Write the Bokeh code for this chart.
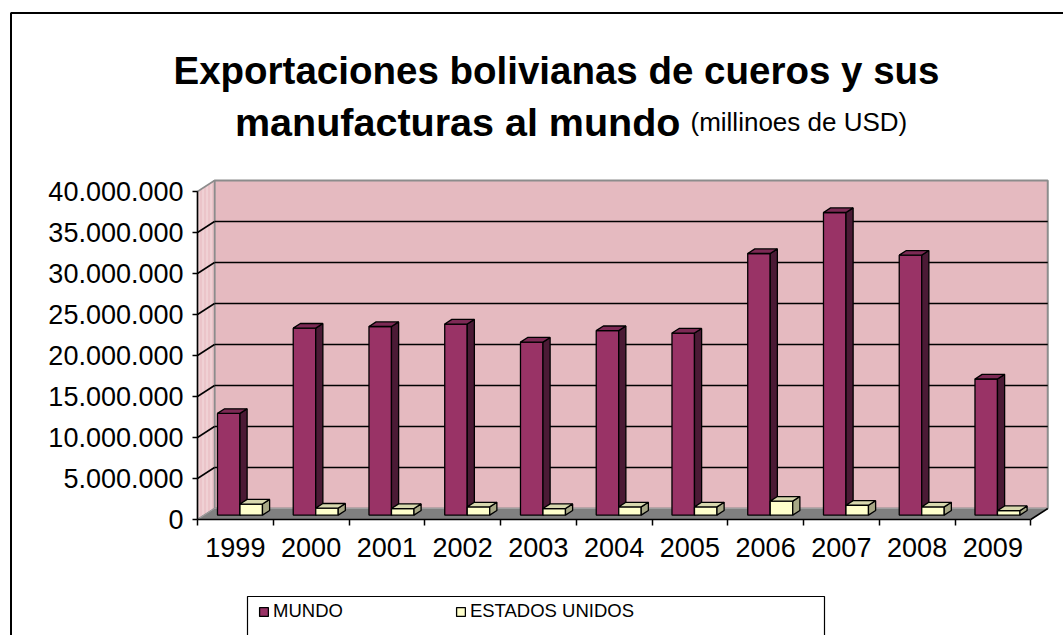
from bokeh.plotting import figure
from bokeh.models import (Range1d, FixedTicker, LinearAxis, Label, Legend,
                          LegendItem, BoxAnnotation)
from bokeh.embed import file_html
from bokeh.resources import INLINE

# ---------------- data ----------------
years = ["1999", "2000", "2001", "2002", "2003", "2004",
         "2005", "2006", "2007", "2008", "2009"]
mundo = [12400000, 22800000, 23000000, 23300000, 21100000, 22500000,
         22200000, 31900000, 36900000, 31700000, 16600000]
eeuu = [1350000, 850000, 800000, 1000000, 800000, 1000000,
        1000000, 1700000, 1200000, 1000000, 550000]
series_names = ["MUNDO", "ESTADOS UNIDOS"]
y_ticks = [0, 5000000, 10000000, 15000000, 20000000,
           25000000, 30000000, 35000000, 40000000]
y_tick_labels = ["0", "5.000.000", "10.000.000", "15.000.000", "20.000.000",
                 "25.000.000", "30.000.000", "35.000.000", "40.000.000"]
title_line1 = "Exportaciones bolivianas de cueros y sus"
title_line2_bold = "manufacturas al mundo"
title_line2_regular = "(millinoes de USD)"

# ---------------- geometry / style ----------------
W, H = 1063, 635
PX_X = 75.75          # px per category
PX_Y = 8.2e-6         # px per USD
ORIGIN_X, ORIGIN_Y = 197, 519   # canvas px of (x=-0.5, y=0)
DX = 17 / PX_X        # depth offset (x)
DY = 11 / PX_Y        # depth offset (y)
A0, A1 = 0.40, 0.82   # bar depth (fraction of floor depth)
BAR_OFF = 0.174
BAR_W = 0.297
FONT = "Liberation Sans"


def xd(px):
    return -0.5 + (px - ORIGIN_X) / PX_X


def yd(py):
    return (ORIGIN_Y - py) / PX_Y


n = len(years)
ymax = y_ticks[-1]

p = figure(width=W, height=H,
           x_range=Range1d(xd(0), xd(W)),
           y_range=Range1d(yd(H), yd(0)),
           x_axis_type=None, y_axis_type=None,
           output_backend="svg", toolbar_location=None,
           min_border=0)
p.outline_line_color = None
p.background_fill_color = "white"
p.border_fill_color = "white"

# back wall
p.quad(left=[-0.5 + DX], right=[n - 0.5 + DX], bottom=[DY], top=[ymax + DY],
       fill_color="#e5bac0", line_color="#8c8c8c", line_width=2)
# left wall
p.patch(x=[-0.5, -0.5 + DX, -0.5 + DX, -0.5], y=[0, DY, ymax + DY, ymax],
        fill_color="#ebc4c9", line_color="#8c8c8c", line_width=1.5,
        hatch_pattern="vertical_line", hatch_color="#f6e2e4", hatch_scale=4,
        hatch_alpha=0.8)
# gridlines back wall + left wall diagonals
gt = y_ticks[1:-1]
p.segment(x0=[-0.5 + DX] * len(gt), y0=[t + DY for t in gt],
          x1=[n - 0.5 + DX] * len(gt), y1=[t + DY for t in gt],
          line_color="black", line_width=1.5)
p.segment(x0=[-0.5] * len(gt), y0=gt,
          x1=[-0.5 + DX] * len(gt), y1=[t + DY for t in gt],
          line_color="black", line_width=1.5)
# floor
p.patch(x=[-0.5, n - 0.5, n - 0.5 + DX, -0.5 + DX], y=[0, 0, DY, DY],
        fill_color="#808080", line_color="#a0a0a0", line_width=1)
p.segment(x0=[n - 0.5], y0=[0], x1=[n - 0.5 + DX], y1=[DY],
          line_color="black", line_width=1.5)


def draw_series(values, k, front, side, top):
    dd = A1 - A0
    lefts = [i - 0.5 + BAR_OFF + k * BAR_W + A0 * DX for i in range(n)]
    rights = [l + BAR_W for l in lefts]
    bot = A0 * DY
    tops = [bot + v for v in values]
    r = p.quad(left=lefts, right=rights, bottom=[bot] * n, top=tops,
               fill_color=front, line_color="black", line_width=1.3)
    sx, sy, tx, ty = [], [], [], []
    for l, rr, t in zip(lefts, rights, tops):
        sx.append([rr, rr + dd * DX, rr + dd * DX, rr])
        sy.append([bot, bot + dd * DY, t + dd * DY, t])
        tx.append([l, rr, rr + dd * DX, l + dd * DX])
        ty.append([t, t, t + dd * DY, t + dd * DY])
    p.patches(xs=sx, ys=sy, fill_color=side, line_color="black", line_width=1.3)
    p.patches(xs=tx, ys=ty, fill_color=top, line_color="black", line_width=1.3)
    return r


r_m = draw_series(mundo, 0, "#993366", "#4b1a35", "#7d2a55")
r_e = draw_series(eeuu, 1, "#ffffcc", "#a8a886", "#d8d8ae")

# axes (placed at fixed data locations inside the full-canvas frame)
xaxis = LinearAxis(
    ticker=FixedTicker(ticks=list(range(n)),
                       minor_ticks=[i - 0.5 for i in range(n + 1)]),
    major_label_overrides={i: years[i] for i in range(n)},
    bounds=(-0.5, n - 0.5), fixed_location=0,
    major_tick_out=0, major_tick_in=0,
    minor_tick_out=6, minor_tick_in=0, minor_tick_line_color="black",
    minor_tick_line_width=1.5,
    axis_line_color="black", axis_line_width=1.5,
    major_label_standoff=12,
    major_label_text_font=FONT, major_label_text_font_size="27px",
    major_label_text_color="black")
p.add_layout(xaxis, "below")

yaxis = LinearAxis(
    ticker=FixedTicker(ticks=y_ticks, minor_ticks=[]),
    major_label_overrides=dict(zip(y_ticks, y_tick_labels)),
    bounds=(0, ymax), fixed_location=-0.5,
    major_tick_out=5, major_tick_in=0, major_tick_line_color="black",
    major_tick_line_width=1.5,
    minor_tick_out=0, minor_tick_in=0,
    axis_line_color="black", axis_line_width=1.5,
    major_label_standoff=9,
    major_label_text_font=FONT, major_label_text_font_size="27px",
    major_label_text_color="black")
p.add_layout(yaxis, "left")

# title
p.add_layout(Label(x=xd(556), y=yd(70), text=title_line1,
                   text_font=FONT, text_font_style="bold",
                   text_font_size="38.5px", text_align="center",
                   text_baseline="alphabetic", text_color="black"))
p.add_layout(Label(x=xd(680), y=yd(121), text=title_line2_bold,
                   text_font=FONT, text_font_style="bold",
                   text_font_size="39.5px", text_align="right",
                   text_baseline="alphabetic", text_color="black"))
p.add_layout(Label(x=xd(690), y=yd(121), text=title_line2_regular,
                   text_font=FONT, text_font_style="normal",
                   text_font_size="26px", text_align="left",
                   text_baseline="alphabetic", text_color="black"))

# outer chart border and legend box
p.add_layout(BoxAnnotation(left=xd(10.5), right=xd(3000), top=yd(12.5),
                           bottom=yd(3000), fill_color=None, fill_alpha=0,
                           line_color="black", line_alpha=1, line_width=2))
p.add_layout(BoxAnnotation(left=xd(247), right=xd(824), top=yd(596),
                           bottom=yd(3000), fill_color=None, fill_alpha=0,
                           line_color="black", line_alpha=1, line_width=1.2))

legend = Legend(items=[LegendItem(label=series_names[0], renderers=[r_m]),
                       LegendItem(label=series_names[1], renderers=[r_e])],
                orientation="horizontal", location=(258, 13),
                border_line_color=None, background_fill_alpha=0,
                padding=0, margin=0, spacing=112, label_standoff=4,
                glyph_width=11, glyph_height=11,
                label_text_font=FONT, label_text_font_size="18.5px",
                label_text_color="black")
p.add_layout(legend, "center")

open("out.html", "w").write(file_html(p, INLINE))
